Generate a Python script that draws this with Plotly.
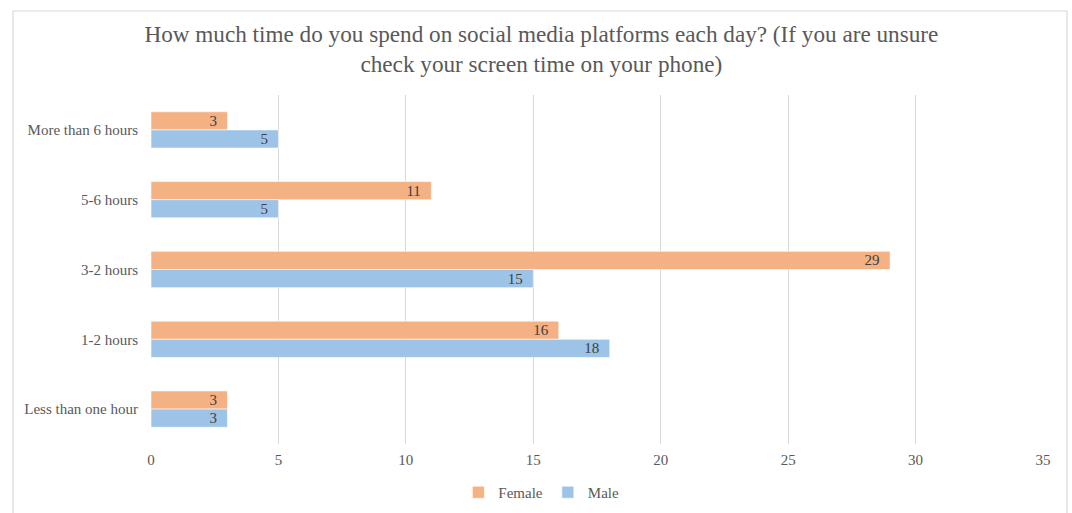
import plotly.graph_objects as go

categories = ["More than 6 hours", "5-6 hours", "3-2 hours", "1-2 hours", "Less than one hour"]
female = [3, 11, 29, 16, 3]
male = [5, 5, 15, 18, 3]
x_ticks = [0, 5, 10, 15, 20, 25, 30, 35]

FONT = "Liberation Serif, Times New Roman, serif"

fig = go.Figure()
fig.add_trace(go.Bar(
    y=categories, x=female, name="Female", orientation="h",
    marker=dict(color="#F4B183", line=dict(color="white", width=0.6)),
    texttemplate="%{x}\u00a0\u00a0", textposition="inside", insidetextanchor="end", textangle=0,
    constraintext="none",
    textfont=dict(family=FONT, size=15, color="#404040"),
))
fig.add_trace(go.Bar(
    y=categories, x=male, name="Male", orientation="h",
    marker=dict(color="#9DC3E6", line=dict(color="white", width=0.6)),
    texttemplate="%{x}\u00a0\u00a0", textposition="inside", insidetextanchor="end", textangle=0,
    constraintext="none",
    textfont=dict(family=FONT, size=15, color="#404040"),
))

fig.update_layout(
    width=1072, height=513,
    margin=dict(l=151, r=29, t=95, b=69, autoexpand=False),
    paper_bgcolor="white", plot_bgcolor="white",
    barmode="group", bargap=0.48, bargroupgap=0,
    font=dict(family=FONT, color="#595959", size=15),
    title=dict(
        text="How much time do you spend on social media platforms each day? (If you are unsure<br>check your screen time on your phone)",
        x=0.505, xanchor="center", y=0.919, yanchor="middle",
        font=dict(family=FONT, size=23.2, color="#595959"),
    ),
    xaxis=dict(
        range=[0, 35], tickvals=x_ticks, showgrid=True, gridcolor="#D9D9D9", gridwidth=1,
        zeroline=False, showline=False, ticks="", ticklabelstandoff=5, automargin=False,
        tickfont=dict(size=15, color="#595959"),
    ),
    yaxis=dict(
        autorange="reversed", showgrid=False, zeroline=False, showline=False, ticks="",
        ticklabelstandoff=12, automargin=False, tickfont=dict(size=15, color="#595959"),
    ),
    legend=dict(
        orientation="h", x=0.505, xanchor="center", xref="container",
        y=0.04, yanchor="middle", yref="container",
        font=dict(size=15, color="#595959"), itemwidth=30, traceorder="normal",
        tracegroupgap=0,
    ),
    showlegend=True,
)
fig.add_shape(type="rect", xref="paper", yref="paper",
              x0=(13 - 151) / 892, x1=(1067 - 151) / 892,
              y0=(444 - 520) / 349, y1=(444 - 11) / 349,
              line=dict(color="#D9D9D9", width=1.2), fillcolor="rgba(0,0,0,0)", layer="below")

fig.write_html("out.html")
